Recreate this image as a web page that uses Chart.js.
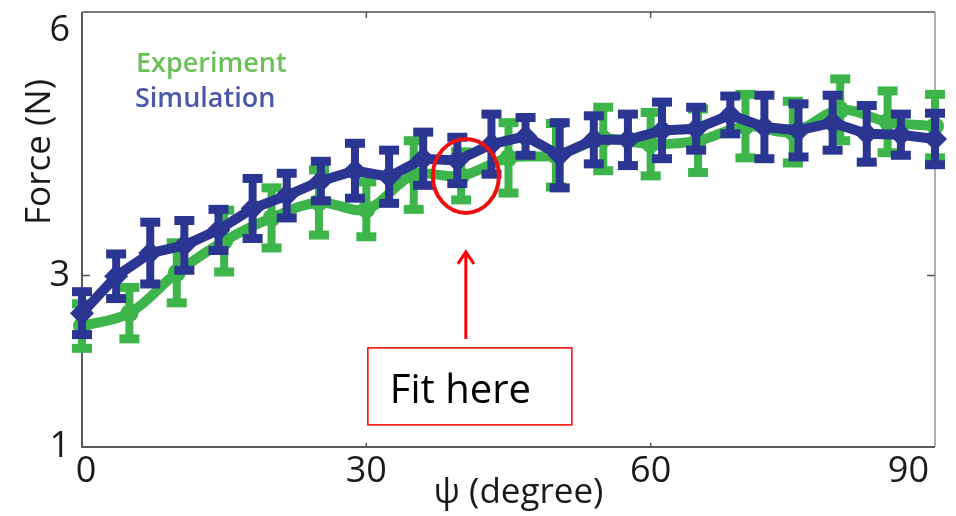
<!DOCTYPE html>
<html>
<head>
<meta charset="utf-8">
<script src="https://cdn.jsdelivr.net/npm/chart.js@4.4.1/dist/chart.umd.min.js"></script>
<style>
  html, body { margin: 0; padding: 0; background: #fff; }
  #c { display: block; }
</style>
</head>
<body>
<canvas id="c" width="956" height="516"></canvas>
<script>
// simulation: every 3.6 degrees
const simAngle = [0, 3.6, 7.2, 10.8, 14.4, 18, 21.6, 25.2, 28.8, 32.4, 36, 39.6, 43.2,
  46.8, 50.4, 54, 57.6, 61.2, 64.8, 68.4, 72, 75.6, 79.2, 82.8, 86.4, 90];
const simForce = [2.56, 2.99, 3.26, 3.35, 3.53, 3.78, 3.93, 4.10, 4.22, 4.15, 4.36, 4.34, 4.53,
  4.62, 4.40, 4.58, 4.58, 4.69, 4.71, 4.87, 4.73, 4.69, 4.78, 4.65, 4.64, 4.59];
const simErr = [0.25, 0.26, 0.36, 0.29, 0.24, 0.35, 0.26, 0.23, 0.32, 0.31, 0.31, 0.27, 0.35,
  0.22, 0.38, 0.28, 0.30, 0.33, 0.25, 0.22, 0.37, 0.31, 0.32, 0.33, 0.24, 0.30];

// experiment: every 5 degrees
const expAngle = [0, 5, 10, 15, 20, 25, 30, 35, 40, 45, 50, 55, 60, 65, 70, 75, 80, 85, 90];
const expForce = [2.41, 2.56, 3.03, 3.40, 3.67, 3.85, 3.77, 4.17, 4.16, 4.37, 4.40, 4.59,
  4.53, 4.57, 4.74, 4.67, 4.93, 4.79, 4.74];
const expErr = [0.26, 0.30, 0.35, 0.36, 0.35, 0.38, 0.32, 0.40, 0.28, 0.41, 0.37, 0.37,
  0.37, 0.37, 0.37, 0.36, 0.36, 0.36, 0.37];

const xTicks = [0, 30, 60, 90];
const yTicks = [1, 3, 6];
const fitPoint = { x: 40.5, y: 4.16 };

const GREEN = '#3db54a';
const BLUE = '#2b3592';
const FONT = '"Open Sans", sans-serif';

const errorBars = {
  id: 'errorBars',
  afterDatasetDraw(chart, args) {
    const ds = chart.data.datasets[args.index];
    if (!ds.errors) return;
    const { ctx, scales: { x, y } } = chart;
    ctx.save();
    ctx.fillStyle = ds.borderColor;
    ds.data.forEach((p, i) => {
      const px = x.getPixelForValue(p.x);
      const top = y.getPixelForValue(p.y + ds.errors[i]);
      const bot = y.getPixelForValue(p.y - ds.errors[i]);
      ctx.fillRect(px - 4, top, 8, bot - top);
      ctx.fillRect(px - 10, top - 4.5, 20, 9);
      ctx.fillRect(px - 10, bot - 4.5, 20, 9);
    });
    ctx.restore();
  }
};

const decor = {
  id: 'decor',
  beforeDatasetsDraw(chart) {
    const { ctx, chartArea: a, scales: { x, y } } = chart;
    ctx.save();
    // frame
    ctx.lineWidth = 2;
    ctx.strokeStyle = '#7a7a7a';
    ctx.beginPath();
    ctx.moveTo(a.left, a.top); ctx.lineTo(a.right, a.top);
    ctx.stroke();
    ctx.strokeStyle = '#b0b0b0';
    ctx.beginPath();
    ctx.moveTo(a.right, a.top); ctx.lineTo(a.right, a.bottom);
    ctx.stroke();
    ctx.strokeStyle = '#5a5a5a';
    ctx.beginPath();
    ctx.moveTo(a.left, a.top); ctx.lineTo(a.left, a.bottom); ctx.lineTo(a.right, a.bottom);
    ctx.stroke();
    // tick marks
    ctx.lineWidth = 1.5;
    ctx.strokeStyle = '#555';
    xTicks.slice(1, -1).forEach(v => {
      const px = x.getPixelForValue(v);
      ctx.beginPath();
      ctx.moveTo(px, a.top); ctx.lineTo(px, a.top + 6);
      ctx.moveTo(px, a.bottom); ctx.lineTo(px, a.bottom - 4);
      ctx.stroke();
    });
    yTicks.slice(1, -1).forEach(v => {
      const py = y.getPixelForValue(v);
      ctx.beginPath();
      ctx.moveTo(a.left, py); ctx.lineTo(a.left + 8, py);
      ctx.moveTo(a.right, py); ctx.lineTo(a.right - 8, py);
      ctx.stroke();
    });
    ctx.restore();
  },
  afterDraw(chart) {
    const { ctx, chartArea: a, scales: { x, y } } = chart;
    ctx.save();
    // tick labels
    ctx.fillStyle = '#1a1a1a';
    ctx.font = '36px ' + FONT;
    ctx.textAlign = 'center';
    ctx.textBaseline = 'middle';
    xTicks.forEach(v => {
      const label = String(v);
      const w = ctx.measureText(label).width;
      let px = x.getPixelForValue(v);
      px = Math.min(Math.max(px, a.left + 4), a.right - w / 2 - 6);
      ctx.fillText(label, px, a.bottom + 25);
    });
    ctx.textAlign = 'right';
    yTicks.forEach(v => {
      let py = y.getPixelForValue(v);
      py = Math.min(Math.max(py, a.top + 19), a.bottom + 5);
      ctx.fillText(String(v), a.left - 12, py);
    });
    // axis titles
    ctx.font = '35px ' + FONT;
    ctx.textAlign = 'center';
    ctx.textBaseline = 'alphabetic';
    ctx.fillText('\u03c8 (degree)', (a.left + a.right) / 2 + 10, a.bottom + 56);
    ctx.save();
    ctx.translate(50, a.top + 140);
    ctx.rotate(-Math.PI / 2);
    ctx.fillText('Force (N)', 0, 0);
    ctx.restore();
    // legend
    ctx.textAlign = 'left';
    ctx.font = '600 27px ' + FONT;
    ctx.fillStyle = '#6cc05a';
    ctx.fillText('Experiment', 136, 72);
    ctx.fillStyle = '#4b58a8';
    ctx.fillText('Simulation', 135, 107);
    // fit annotation
    const cx = x.getPixelForValue(fitPoint.x);
    const cy = y.getPixelForValue(fitPoint.y);
    ctx.strokeStyle = '#ee1111';
    ctx.lineWidth = 4;
    ctx.beginPath();
    ctx.ellipse(cx, cy, 33, 37, 0, 0, Math.PI * 2);
    ctx.stroke();
    const tipY = cy + 76;
    const boxTop = cy + 172;
    ctx.strokeStyle = '#ff0000';
    ctx.lineWidth = 3;
    ctx.beginPath();
    ctx.moveTo(cx, boxTop - 9); ctx.lineTo(cx, tipY);
    ctx.moveTo(cx - 8, tipY + 12); ctx.lineTo(cx, tipY); ctx.lineTo(cx + 8, tipY + 12);
    ctx.stroke();
    ctx.lineWidth = 1.5;
    ctx.strokeRect(cx - 98, boxTop, 204, 77);
    ctx.fillStyle = '#000';
    ctx.font = '40px ' + FONT;
    ctx.textBaseline = 'alphabetic';
    ctx.fillText('Fit here', cx - 76, boxTop + 55);
    ctx.restore();
  }
};

new Chart(document.getElementById('c'), {
  type: 'scatter',
  data: {
    datasets: [{
      label: 'Simulation',
      data: simAngle.map((a, i) => ({ x: a, y: simForce[i] })),
      errors: simErr,
      showLine: true,
      borderColor: BLUE,
      backgroundColor: BLUE,
      borderWidth: 10,
      pointStyle: 'rectRot',
      pointRadius: 12,
      pointBorderWidth: 0,
      tension: 0,
      clip: false,
    }, {
      label: 'Experiment',
      data: expAngle.map((a, i) => ({ x: a, y: expForce[i] })),
      errors: expErr,
      showLine: true,
      borderColor: GREEN,
      backgroundColor: GREEN,
      borderWidth: 10,
      pointStyle: 'circle',
      pointRadius: 9,
      pointBorderWidth: 0,
      tension: 0.35,
      clip: false,
    }]
  },
  options: {
    responsive: false,
    animation: false,
    devicePixelRatio: 1,
    layout: { padding: { left: 82, right: 21, top: 11, bottom: 69 } },
    plugins: {
      legend: { display: false },
      tooltip: { enabled: false },
    },
    scales: {
      x: { type: 'linear', min: 0, max: 90, display: false },
      y: { type: 'linear', min: 1, max: 6.07, display: false },
    }
  },
  plugins: [decor, errorBars]
});
</script>
</body>
</html>
